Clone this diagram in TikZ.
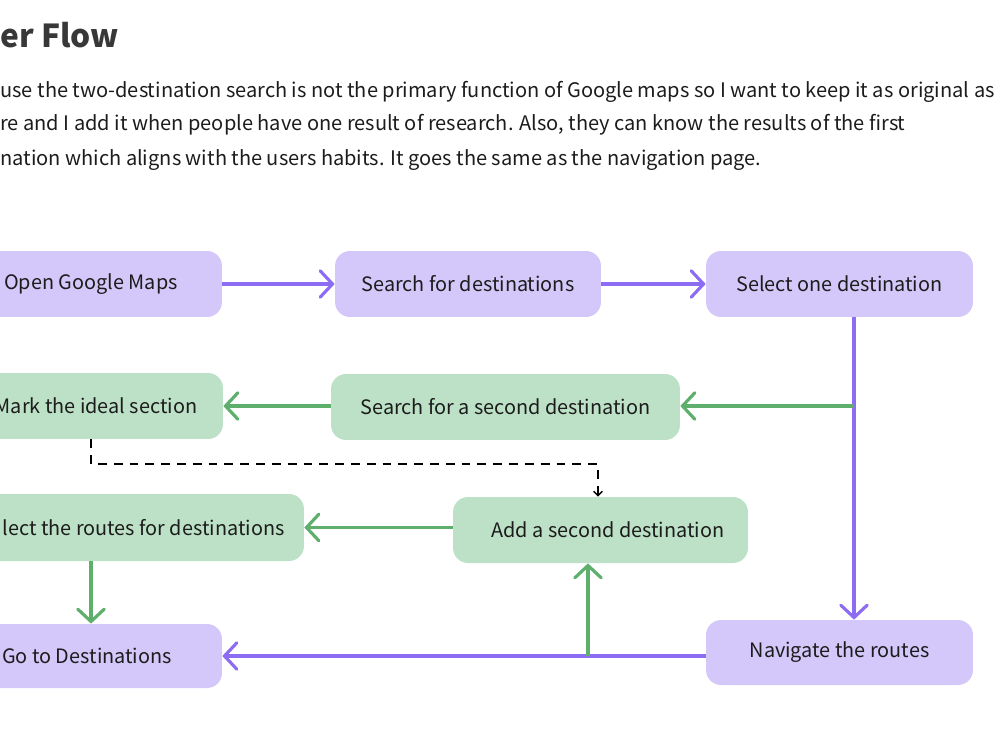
\documentclass[tikz,border=0pt]{standalone}
\usepackage{fontspec}
\setmainfont{Noto Sans CJK KR}
\usepackage{tikz}
\usetikzlibrary{positioning, arrows.meta, calc}

\definecolor{boxpurple}{RGB}{211,200,249}
\definecolor{linepurple}{RGB}{140,108,242}
\definecolor{boxgreen}{RGB}{189,225,198}
\definecolor{linegreen}{RGB}{93,175,107}
\definecolor{inkgray}{RGB}{28,28,28}

\tikzset{
  flowbox/.style={rounded corners=0.3cm, inner sep=0pt, text=inkgray,
    font=\fontsize{11.3}{13}\selectfont},
  purplebox/.style={flowbox, fill=boxpurple},
  greenbox/.style={flowbox, fill=boxgreen},
  purpleline/.style={draw=linepurple, line width=1.8pt,
    -{Straight Barb[length=7pt, width=15pt, line cap=round]}},
  greenline/.style={draw=linegreen, line width=1.8pt,
    -{Straight Barb[length=7pt, width=15pt, line cap=round]}},
  dashline/.style={draw=black, line width=0.8pt, dash pattern=on 5pt off 4pt,
    -{Straight Barb[length=2.5pt, width=5pt]}},
  bodytext/.style={anchor=base west, inner sep=0pt, text=inkgray,
    font=\fontsize{11.4}{13}\selectfont}
}

\begin{document}
\begin{tikzpicture}[x=0.02cm, y=-0.02cm]
    \clip (0,0) rectangle (1000,750);

    % heading and text
    \node[anchor=base west, inner sep=0pt, text=black!78,
      font=\fontsize{18}{22}\selectfont\bfseries] (title) at (0,48) {er Flow};
    \node[bodytext] (line1) at (0,97) {use the two-destination search is not the primary function of Google maps so I want to keep it as original as};
    \node[bodytext] (line2) at (0,131) {re and I add it when people have one result of research. Also, they can know the results of the first};
    \node[bodytext] (line3) at (0,165) {nation which aligns with the users habits. It goes the same as the navigation page.};

    % first row
    \node[purplebox, minimum width=5.24cm, minimum height=1.32cm] (open) at (91,284) {Open Google Maps};
    \node[purplebox, minimum width=5.32cm, minimum height=1.32cm] (search) at (468,284) {Search for destinations};
    \node[purplebox, minimum width=5.34cm, minimum height=1.32cm] (selectone) at (839.5,284) {Select one destination};

    % second row
    \node[greenbox, minimum width=5.08cm, minimum height=1.32cm] (mark) at (96,406) {Mark the ideal section};
    \node[greenbox, minimum width=6.98cm, minimum height=1.32cm] (searchsecond) at (505.5,407) {Search for a second destination};

    % third row
    \node[greenbox, minimum width=6.42cm, minimum height=1.34cm] (routes) at (143.5,527.5) {lect the routes for destinations};
    \node[greenbox, minimum width=5.9cm, minimum height=1.32cm] (addsecond) at (600.5,530) {\hspace{0.3cm}Add a second destination};

    % last row
    \node[purplebox, minimum width=5.4cm, minimum height=1.28cm] (go) at (87,656) {Go to Destinations};
    \node[purplebox, minimum width=5.34cm, minimum height=1.3cm] (navigate) at (839.5,652.5) {Navigate the routes};

    \coordinate (split) at (854,406);
    \coordinate (colx) at (91,0);
    \coordinate (dashx) at (598,464);
    \coordinate (upx) at (588,0);

    \draw[purpleline] (open) -- (search);
    \draw[purpleline] (search) -- (selectone);
    \draw[purpleline] (selectone.south -| split) -- (navigate.north -| split);
    \draw[greenline] (split) -- (searchsecond.east |- split);
    \draw[greenline] (searchsecond.west |- split) -- (mark.east |- split);
    \draw[dashline] (mark.south -| colx) |- (dashx) -- (addsecond.north -| dashx);
    \draw[greenline] (addsecond.west |- routes.east) -- (routes.east);
    \draw[greenline] (routes.south -| colx) -- (go.north -| colx);
    \draw[purpleline] (navigate.west |- go.east) -- (go.east);
    \draw[greenline] (upx |- go.east) -- (addsecond.south -| upx);
\end{tikzpicture}
\end{document}
